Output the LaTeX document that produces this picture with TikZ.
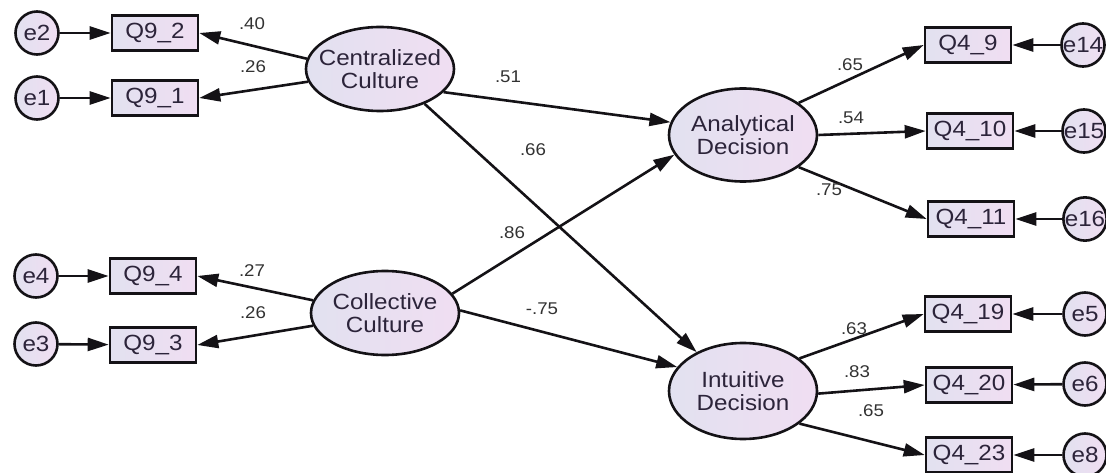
\documentclass[tikz,border=0pt]{standalone}
\usepackage{fontspec}
\setmainfont{Liberation Sans}[FakeStretch=1.1]
\usetikzlibrary{arrows.meta,shapes.geometric}
\definecolor{lavL}{RGB}{226,225,240}
\definecolor{lavR}{RGB}{240,222,242}
\definecolor{ink}{RGB}{20,18,22}
\definecolor{txt}{RGB}{44,36,58}
\definecolor{lbl}{RGB}{50,50,50}
\tikzset{
  latent/.style={ellipse, draw=ink, line width=2.6pt, left color=lavL, right color=lavR,
    minimum width=148pt, minimum height=84pt, inner xsep=-14pt, inner ysep=0pt, align=center,
    text=txt, font=\fontsize{22}{23}\selectfont},
  obs/.style={rectangle, draw=ink, line width=2.6pt, left color=lavL, right color=lavR,
    minimum width=86pt, minimum height=35pt, inner sep=0pt,
    text=txt, font=\fontsize{22}{23}\selectfont},
  err/.style={circle, draw=ink, line width=2.6pt, left color=lavL, right color=lavR,
    minimum size=43pt, inner sep=0pt,
    text=txt, font=\fontsize{22}{23}\selectfont},
  path/.style={draw=ink, line width=2.6pt, -{Triangle[length=21pt,width=13pt]}},
  coef/.style={text=lbl, font=\fontsize{17}{18}\selectfont, inner sep=0pt}
}
\begin{document}
\begin{tikzpicture}[x=1pt,y=-1pt]
\useasboundingbox (0,0) rectangle (1106,473);

% exogenous factors and their indicators
\node[latent] (cc)  at (380,69)  {Centralized\\Culture};
\node[latent] (col) at (385,313) {Collective\\Culture};
\node[obs] (q92) at (155,33)  {Q9\_2};
\node[obs] (q91) at (155,98)  {Q9\_1};
\node[obs] (q94) at (153,276) {Q9\_4};
\node[obs] (q93) at (153,345) {Q9\_3};
\node[err] (e2) at (37,33)  {e2};
\node[err] (e1) at (37,98)  {e1};
\node[err] (e4) at (36,276) {e4};
\node[err] (e3) at (36,344) {e3};

% endogenous factors and their indicators
\node[latent, minimum height=93pt] (ad) at (743,135) {Analytical\\Decision};
\node[latent, minimum height=96pt] (id) at (743,391) {Intuitive\\Decision};
\node[obs] (q49)  at (968,45)  {Q4\_9};
\node[obs] (q410) at (970,131) {Q4\_10};
\node[obs] (q411) at (971,219) {Q4\_11};
\node[obs] (q419) at (968,314) {Q4\_19};
\node[obs] (q420) at (969,385) {Q4\_20};
\node[obs] (q423) at (969,455) {Q4\_23};
\node[err] (e14) at (1083,45)  {e14};
\node[err] (e15) at (1084,131) {e15};
\node[err] (e16) at (1085,219) {e16};
\node[err] (e5)  at (1085,314) {e5};
\node[err] (e6)  at (1085,384) {e6};
\node[err] (e8)  at (1085,455) {e8};

% error terms
\draw[path] (e2) -- (q92);
\draw[path] (e1) -- (q91);
\draw[path] (e4) -- (q94);
\draw[path] (e3) -- (q93);
\draw[path] (e14) -- (q49);
\draw[path] (e15) -- (q410);
\draw[path] (e16) -- (q411);
\draw[path] (e5) -- (q419);
\draw[path] (e6) -- (q420);
\draw[path] (e8) -- (q423);

% measurement paths
\draw[path] (cc.172) -- (q92.east);
\draw[path] (cc.190) -- (q91.east);
\draw[path] (col.170) -- (q94.east);
\draw[path] (col.190) -- (q93.east);
\draw[path] (ad.30) -- (q49.west);
\draw[path] (ad.0) -- (q410.west);
\draw[path] (ad.-30) -- (q411.west);
\draw[path] (id.30) -- (q419.west);
\draw[path] (id.-2) -- (q420.west);
\draw[path] (id.-30) -- (q423.west);

% structural paths
\draw[path] (cc.-20) -- (ad.170);
\draw[path] (cc.-38) -- (id.140);
\draw[path] (col.16) -- (ad.196);
\draw[path] (col.2) -- (id.160);

% coefficients
\node[coef] (c1)  at (252,24)  {.40};
\node[coef] (c2)  at (253,67)  {.26};
\node[coef] (c3)  at (252,271) {.27};
\node[coef] (c4)  at (253,313) {.26};
\node[coef] (c5)  at (508,77)  {.51};
\node[coef] (c6)  at (533,150) {.66};
\node[coef] (c7)  at (512,233) {.86};
\node[coef] (c8)  at (542,309) {-.75};
\node[coef] (c9)  at (850,65)  {.65};
\node[coef] (c10) at (851,118) {.54};
\node[coef] (c11) at (829,190) {.75};
\node[coef] (c12) at (854,329) {.63};
\node[coef] (c13) at (857,372) {.83};
\node[coef] (c14) at (871,411) {.65};
\end{tikzpicture}
\end{document}
